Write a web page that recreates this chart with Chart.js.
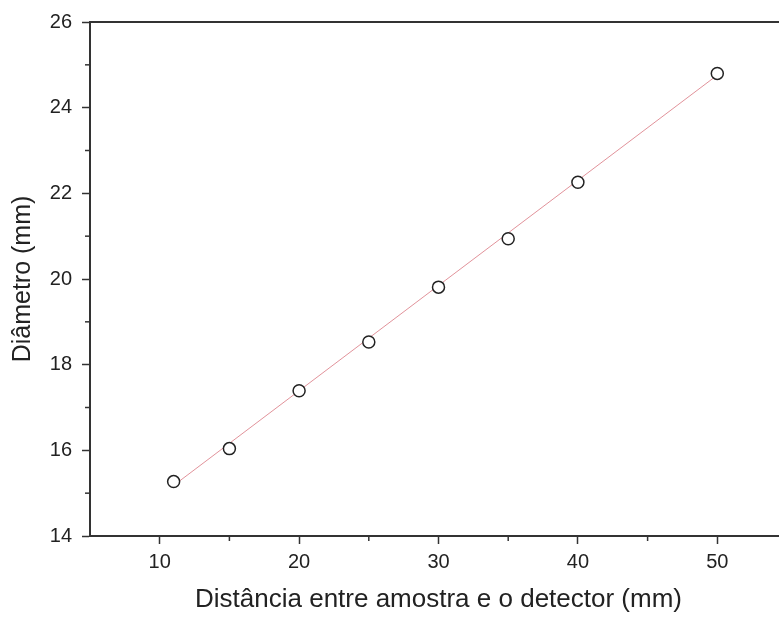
<!DOCTYPE html>
<html>
<head>
<meta charset="utf-8">
<script src="https://cdn.jsdelivr.net/npm/chart.js@4/dist/chart.umd.min.js"></script>
<style>
  html, body { margin: 0; padding: 0; overflow: hidden; background: #fff; }
  #wrap { width: 800px; height: 619px; }
</style>
</head>
<body>
<div id="wrap"><canvas id="chart"></canvas></div>
<script>
// measured points
const distance = [11, 15, 20, 25, 30, 35, 40, 50];
const diameter = [15.27, 16.04, 17.39, 18.53, 19.81, 20.94, 22.26, 24.80];
// linear fit endpoints
const fitX = [11, 50];
const fitY = [15.18, 24.76];

const xTitle = 'Distância entre amostra e o detector (mm)';
const yTitle = 'Diâmetro (mm)';

const axisColor = '#333';

// short minor ticks + top frame line
const framePlugin = {
  id: 'frame',
  afterDraw(chart) {
    const ctx = chart.ctx;
    const {top, left, right, bottom} = chart.chartArea;
    const x = chart.scales.x, y = chart.scales.y;
    ctx.save();
    ctx.strokeStyle = axisColor;
    ctx.lineWidth = 2;
    ctx.beginPath();
    ctx.moveTo(left, top);
    ctx.lineTo(right, top);
    ctx.stroke();
    ctx.lineWidth = 1.5;
    x.ticks.forEach(t => {
      if (t.value % 10 !== 0 && t.value > x.min) {
        const px = x.getPixelForValue(t.value);
        ctx.beginPath();
        ctx.moveTo(px, bottom);
        ctx.lineTo(px, bottom + 5);
        ctx.stroke();
      }
    });
    y.ticks.forEach(t => {
      if (t.value % 2 !== 0) {
        const py = y.getPixelForValue(t.value);
        ctx.beginPath();
        ctx.moveTo(left, py);
        ctx.lineTo(left - 5, py);
        ctx.stroke();
      }
    });
    ctx.restore();
  }
};

new Chart(document.getElementById('chart'), {
  type: 'scatter',
  data: {
    datasets: [
      {
        label: 'fit',
        data: fitX.map((v, i) => ({x: v, y: fitY[i]})),
        showLine: true,
        borderColor: 'rgba(215, 110, 120, 0.75)',
        borderWidth: 1,
        pointRadius: 0,
        order: 2
      },
      {
        label: 'dados',
        data: distance.map((v, i) => ({x: v, y: diameter[i]})),
        pointStyle: 'circle',
        pointRadius: 6,
        pointBorderWidth: 1.5,
        pointBorderColor: '#222',
        pointBackgroundColor: '#fff',
        order: 1
      }
    ]
  },
  options: {
    responsive: true,
    maintainAspectRatio: false,
    animation: false,
    layout: { padding: { top: 17, right: 13, left: 0, bottom: 0 } },
    plugins: { legend: { display: false }, tooltip: { enabled: false } },
    scales: {
      x: {
        type: 'linear',
        min: 5,
        max: 55,
        afterFit: s => { s.height = 83; },
        ticks: {
          stepSize: 5,
          padding: 6,
          color: '#222',
          font: { family: 'Liberation Sans, Arial', size: 20 },
          callback: v => (v % 10 === 0 && v > 5 && v < 55) ? v : ''
        },
        grid: {
          drawOnChartArea: false,
          tickLength: 8,
          tickWidth: 1.5,
          tickColor: c => (c.tick && c.tick.value % 10 === 0) ? axisColor : 'rgba(0,0,0,0)'
        },
        border: { color: axisColor, width: 2 },
        title: {
          display: true,
          text: xTitle,
          color: '#222',
          font: { family: 'Liberation Sans, Arial', size: 26 },
          padding: { top: 0, bottom: 4 }
        }
      },
      y: {
        type: 'linear',
        min: 14,
        max: 26,
        afterFit: s => { s.width = 90; },
        ticks: {
          stepSize: 1,
          padding: 10,
          color: '#222',
          font: { family: 'Liberation Sans, Arial', size: 20 },
          callback: v => (v % 2 === 0) ? v : ''
        },
        grid: {
          drawOnChartArea: false,
          tickLength: 8,
          tickWidth: 1.5,
          tickColor: c => (c.tick && c.tick.value % 2 === 0) ? axisColor : 'rgba(0,0,0,0)'
        },
        border: { color: axisColor, width: 2 },
        title: {
          display: true,
          text: yTitle,
          color: '#222',
          font: { family: 'Liberation Sans, Arial', size: 25 },
          padding: { top: 8, bottom: 0 }
        }
      }
    }
  },
  plugins: [framePlugin]
});
</script>
</body>
</html>
